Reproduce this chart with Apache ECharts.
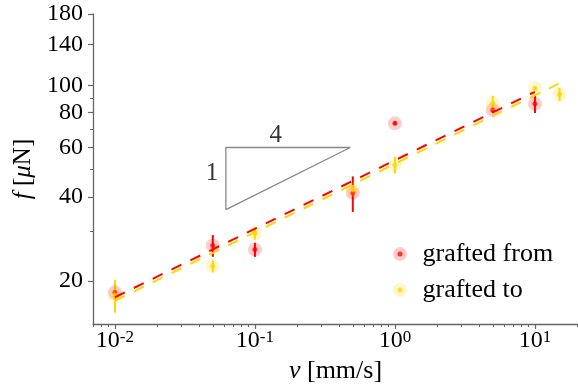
<!DOCTYPE html>
<html><head><meta charset="utf-8">
<script src="https://cdn.jsdelivr.net/npm/echarts@6/dist/echarts.min.js"></script>
<style>html,body{margin:0;padding:0;background:#fff}#c{width:578px;height:390px}</style>
</head><body><div id="c"></div>
<script>
// ---- data ----
const fromV   = [0.01, 0.05, 0.1, 0.5, 1, 5, 10];
const fromF   = [18.2, 26.8, 25.9, 41.3, 73.2, 81.7, 86.0];
const fromErr = [1.0, 2.4, 1.5, 6.0, 1.0, 2.0, 6.3];
const toV     = [0.01, 0.05, 0.1, 0.5, 1, 5, 10, 15];
const toF     = [17.8, 22.6, 29.6, 42.5, 52.0, 86.3, 97.7, 93.0];
const toErr   = [2.4, 1.1, 1.5, 1.5, 3.5, 5.5, 1.5, 5.0];
const fitFrom = [[0.01, 17.5], [10, 94.9]];
const fitTo   = [[0.01, 17.0], [15, 101.8]];
const slopeTriangle = [[0.062, 36.0], [0.062, 60], [0.48, 60], [0.062, 36.0]];
const slopeLabels = [{v: 0.141, f: 66, text: '4'}, {v: 0.0493, f: 48.4, text: '1'}];
const xTickExps = [-2, -1, 0, 1];
const yTickLabels = [20, 40, 60, 80, 100, 140, 180];
const yMinorTicks = [30, 50, 70, 90];
const xRange = [0.00697, 20.3];
const yRange = [14.04, 180];

const L = Math.log10;
const FONT = 'Liberation Serif';
const AX = '#666';
const RED = '#FF0000', GOLD = '#FFD700';

const xMinor = [];
for (let d = -3; d <= 1; d++) for (let k = 2; k <= 9; k++) {
  const lv = L(k * Math.pow(10, d));
  if (lv >= L(xRange[0]) && lv <= L(xRange[1])) xMinor.push(lv);
}

function errData(v, f, e) { return v.map((x, i) => [L(x), L(f[i] - e[i]), L(f[i] + e[i])]); }
function ptData(v, f) { return v.map((x, i) => [L(x), L(f[i])]); }
function errSeries(data, color) {
  return {
    type: 'custom', data: data, encode: {x: 0, y: [1, 2]}, silent: true,
    renderItem: (params, api) => {
      const p1 = api.coord([api.value(0), api.value(1)]);
      const p2 = api.coord([api.value(0), api.value(2)]);
      return {type: 'line', shape: {x1: p1[0], y1: p1[1], x2: p2[0], y2: p2[1]},
              style: {stroke: color, lineWidth: 2}};
    }
  };
}

const chart = echarts.init(document.getElementById('c'), null, {renderer: 'canvas'});
chart.setOption({
  animation: false,
  backgroundColor: '#fff',
  grid: {left: 93, right: 0, top: 14, bottom: 66, containLabel: false},
  xAxis: [{
    type: 'value', min: L(xRange[0]), max: L(xRange[1]),
    name: '{i|v} [mm/s]', nameLocation: 'middle', nameGap: 32,
    nameTextStyle: {fontFamily: FONT, fontSize: 26, color: '#000',
      rich: {i: {fontFamily: FONT, fontSize: 26, fontStyle: 'italic', color: '#000'}}},
    axisLine: {onZero: false, lineStyle: {color: AX, width: 1.3}},
    axisTick: {customValues: xTickExps, length: 5, lineStyle: {color: AX, width: 1.2}},
    axisLabel: {customValues: xTickExps, margin: 5, color: '#000',
      formatter: v => '{b|10}{s|' + (v < 0 ? '-' + (-v) : v) + '}',
      rich: {b: {fontFamily: FONT, fontSize: 24, color: '#000', lineHeight: 24},
             s: {fontFamily: FONT, fontSize: 17, color: '#000', verticalAlign: 'top', lineHeight: 17}}},
    splitLine: {show: false}
  }, {
    type: 'value', min: L(xRange[0]), max: L(xRange[1]), position: 'bottom',
    axisLine: {show: false, onZero: false},
    axisTick: {customValues: xMinor, length: 3, lineStyle: {color: AX, width: 1}},
    axisLabel: {show: false}, splitLine: {show: false}
  }],
  yAxis: [{
    type: 'value', min: L(yRange[0]), max: L(yRange[1]), position: 'left',
    name: '{i|f} [{i|μ}N]', nameLocation: 'middle', nameGap: 56,
    nameTextStyle: {fontFamily: FONT, fontSize: 25, color: '#000',
      rich: {i: {fontFamily: FONT, fontSize: 25, fontStyle: 'italic', color: '#000'}}},
    axisLine: {onZero: false, lineStyle: {color: AX, width: 1.3}},
    axisTick: {customValues: yTickLabels.map(L), length: 5, lineStyle: {color: AX, width: 1.2}},
    axisLabel: {customValues: yTickLabels.map(L), margin: 10, color: '#000',
      fontFamily: FONT, fontSize: 24, formatter: v => String(Math.round(Math.pow(10, v)))},
    splitLine: {show: false}
  }, {
    type: 'value', min: L(yRange[0]), max: L(yRange[1]), position: 'left',
    axisLine: {show: false, onZero: false},
    axisTick: {customValues: yMinorTicks.map(L), length: 3, lineStyle: {color: AX, width: 1}},
    axisLabel: {show: false}, splitLine: {show: false}
  }],
  legend: {
    data: ['grafted from', 'grafted to'], orient: 'vertical', left: 388, top: 236,
    itemWidth: 35, itemHeight: 5, itemGap: 10,
    itemStyle: {borderWidth: 9},
    textStyle: {fontFamily: FONT, fontSize: 26, color: '#000', lineHeight: 25}
  },
  series: [
    {type: 'line', data: slopeTriangle.map(p => [L(p[0]), L(p[1])]), symbol: 'none', silent: true,
     lineStyle: {color: '#888', width: 1.3}},
    {type: 'scatter', data: slopeLabels.map(p => ({value: [L(p.v), L(p.f)], name: p.text})),
     symbolSize: 0, silent: true,
     label: {show: true, position: 'inside', formatter: p => p.name, fontFamily: FONT, fontSize: 25, color: '#000'}},
    {type: 'line', data: fitFrom.map(p => [L(p[0]), L(p[1])]), symbol: 'none', silent: true,
     lineStyle: {color: RED, width: 2, type: [11, 10]}},
    {type: 'line', data: fitTo.map(p => [L(p[0]), L(p[1])]), symbol: 'none', silent: true,
     lineStyle: {color: GOLD, width: 2, type: [11, 10]}},
    errSeries(errData(fromV, fromF, fromErr), RED),
    {name: 'grafted from', type: 'scatter', data: ptData(fromV, fromF), symbolSize: 5,
     itemStyle: {color: RED, borderColor: 'rgba(255,0,0,0.25)', borderWidth: 9}},
    errSeries(errData(toV, toF, toErr), GOLD),
    {name: 'grafted to', type: 'scatter', data: ptData(toV, toF), symbolSize: 5,
     itemStyle: {color: GOLD, borderColor: 'rgba(255,215,0,0.25)', borderWidth: 9}}
  ]
});
</script></body></html>
